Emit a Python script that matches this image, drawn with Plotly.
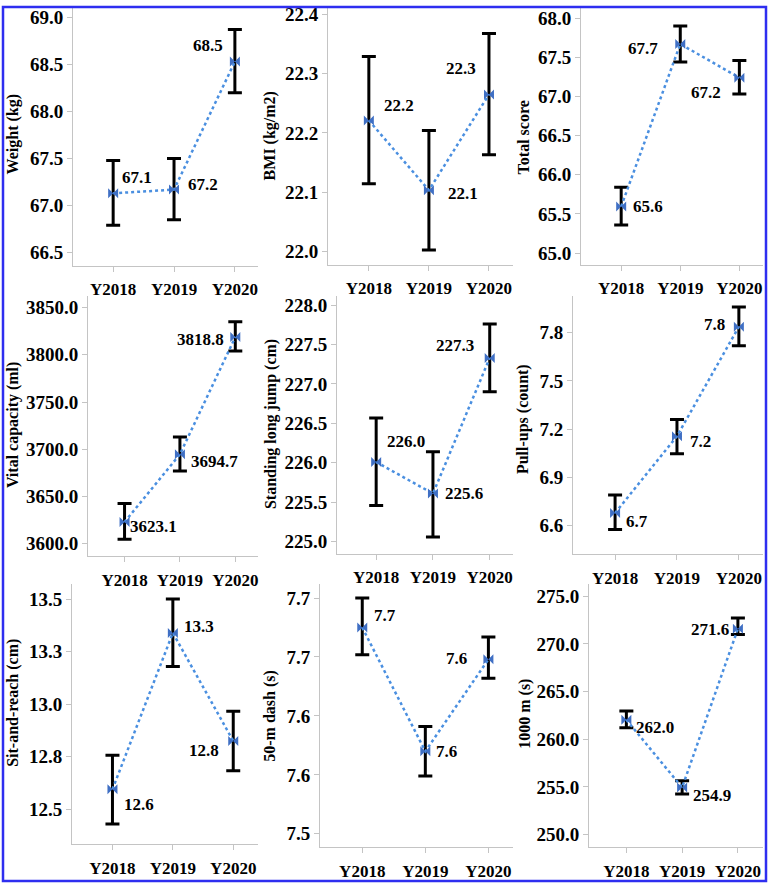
import plotly.graph_objects as go

# ---------------- data ----------------
years = ["Y2018", "Y2019", "Y2020"]

weight_mean = [67.13, 67.17, 68.53]
weight_low = [66.79, 66.85, 68.20]
weight_high = [67.48, 67.50, 68.87]

bmi_mean = [22.221, 22.103, 22.265]
bmi_low = [22.114, 22.002, 22.163]
bmi_high = [22.329, 22.204, 22.368]

total_mean = [65.596, 67.67, 67.24]
total_low = [65.36, 67.44, 67.03]
total_high = [65.84, 67.90, 67.46]

vital_mean = [3623.1, 3694.7, 3818.8]
vital_low = [3604.9, 3677.0, 3804.0]
vital_high = [3642.7, 3713.0, 3835.0]

jump_mean = [226.01, 225.61, 227.33]
jump_low = [225.46, 225.06, 226.90]
jump_high = [226.57, 226.14, 227.76]

pullup_mean = [6.678, 7.156, 7.837]
pullup_low = [6.575, 7.047, 7.718]
pullup_high = [6.79, 7.26, 7.96]

sit_mean = [12.595, 13.339, 12.825]
sit_low = [12.43, 13.179, 12.683]
sit_high = [12.757, 13.50, 12.966]

dash_mean = [7.675, 7.570, 7.648]
dash_low = [7.652, 7.549, 7.632]
dash_high = [7.700, 7.591, 7.667]

run_mean = [262.04, 254.94, 271.6]
run_low = [261.2, 254.26, 271.0]
run_high = [262.97, 255.65, 272.73]

titles = ["Weight (kg)", "BMI (kg/m2)", "Total score",
          "Vital capacity (ml)", "Standing long jump (cm)", "Pull-ups (count)",
          "Sit-and-reach (cm)", "50-m dash (s)", "1000 m (s)"]

weight_ticks = [66.5, 67.0, 67.5, 68.0, 68.5, 69.0]
bmi_ticks = [22.0, 22.1, 22.2, 22.3, 22.4]
total_ticks = [65.0, 65.5, 66.0, 66.5, 67.0, 67.5, 68.0]
vital_ticks = [3600.0, 3650.0, 3700.0, 3750.0, 3800.0, 3850.0]
jump_ticks = [225.0, 225.5, 226.0, 226.5, 227.0, 227.5, 228.0]
pullup_ticks = [6.6, 6.9, 7.2, 7.5, 7.8]
sit_ticks = [12.5, 12.75, 13.0, 13.25, 13.5]
sit_ticktext = ["12.5", "12.8", "13.0", "13.3", "13.5"]
dash_ticks = [7.50, 7.55, 7.60, 7.65, 7.70]
dash_ticktext = ["7.5", "7.6", "7.6", "7.7", "7.7"]
run_ticks = [250.0, 255.0, 260.0, 265.0, 270.0, 275.0]

panels = [
    (weight_mean, weight_low, weight_high, weight_ticks, None),
    (bmi_mean, bmi_low, bmi_high, bmi_ticks, None),
    (total_mean, total_low, total_high, total_ticks, None),
    (vital_mean, vital_low, vital_high, vital_ticks, None),
    (jump_mean, jump_low, jump_high, jump_ticks, None),
    (pullup_mean, pullup_low, pullup_high, pullup_ticks, None),
    (sit_mean, sit_low, sit_high, sit_ticks, sit_ticktext),
    (dash_mean, dash_low, dash_high, dash_ticks, dash_ticktext),
    (run_mean, run_low, run_high, run_ticks, None),
]

# ---------------- layout geometry (pixels) ----------------
W, H = 769, 884
# plot area: left, right, top, bottom
boxes = [
    (73, 258, 4, 263), (328, 513, 4, 262), (581, 763, 4, 262),
    (88, 258, 293, 555), (337, 513, 293, 552), (573, 763, 293, 553),
    (72, 258, 583, 844), (320, 513, 583, 847), (589, 763, 583, 847),
]
yranges = [
    (66.36, 69.1), (21.977, 22.411), (64.85, 68.13),
    (3586.6, 3862.6), (224.85, 228.12), (6.42, 8.03),
    (12.334, 13.57), (7.4887, 7.7116), (248.67, 276.26),
]
xranges = [
    (-0.66, 2.38), (-0.68, 2.4), (-0.68, 2.4),
    (-0.66, 2.41), (-0.69, 2.41), (-0.68, 2.39),
    (-0.67, 2.41), (-0.67, 2.39), (-0.67, 2.45),
]
# y-title centre (x px, y px)
title_pos = [(13, 131), (270, 133), (523, 134),
             (13, 423), (271, 422), (523, 417),
             (13, 702), (270, 715), (525, 713)]
# value label offsets (dx, dy) in px, screen-down positive
label_off = [
    [(24, -16), (29, -5), (-27, -16)],
    [(30, -15), (34, 3), (-28, -26)],
    [(27, 0), (-37, 4), (-33, 15)],
    [(29, 5), (35, 7), (-35, 2)],
    [(30, -21), (31, 0), (-35, -12)],
    [(22, 8), (24, 5), (-24, -2)],
    [(27, 15), (26, -6), (-29, 10)],
    [(23, -12), (21, 0), (-32, -1)],
    [(29, 8), (30, 8), (-28, 1)],
]

FONT = "Liberation Serif"
AXIS_COL = "#c4c4c4"

fig = go.Figure()
annotations = []
layout = {}

for i, (mean, low, high, ticks, ticktext) in enumerate(panels):
    n = i + 1
    xa = "x" if n == 1 else f"x{n}"
    ya = "y" if n == 1 else f"y{n}"
    err_plus = [h - m for h, m in zip(high, mean)]
    err_minus = [m - l for m, l in zip(mean, low)]
    fig.add_trace(go.Scatter(
        x=[0, 1, 2], y=mean, xaxis=xa, yaxis=ya,
        mode="lines+markers",
        line=dict(color="#4a8fe0", width=2.5, dash="dot"),
        marker=dict(symbol="bowtie", size=10, color="#3f6fc4"),
        error_y=dict(type="data", symmetric=False, array=err_plus,
                     arrayminus=err_minus, color="black", thickness=3, width=7),
        showlegend=False, hoverinfo="skip",
    ))
    l, r, t, b = boxes[i]
    xdom = [l / W, r / W]
    ydom = [1 - b / H, 1 - t / H]
    xkey = "xaxis" if n == 1 else f"xaxis{n}"
    ykey = "yaxis" if n == 1 else f"yaxis{n}"
    layout[xkey] = dict(
        domain=xdom, anchor=ya, range=list(xranges[i]),
        tickvals=[0, 1, 2], ticktext=years,
        showgrid=False, zeroline=False, showline=True, linecolor=AXIS_COL,
        linewidth=1, ticks="outside", ticklen=5, tickcolor=AXIS_COL,
        ticklabelstandoff=3,
        tickfont=dict(family=FONT, size=17, color="black", weight="bold"),
    )
    ydict = dict(
        domain=ydom, anchor=xa, range=list(yranges[i]),
        tickvals=ticks,
        showgrid=False, zeroline=False, showline=True, linecolor=AXIS_COL,
        linewidth=1, ticks="outside", ticklen=5, tickcolor=AXIS_COL,
        tickfont=dict(family=FONT, size=19, color="black", weight="bold"),
    )
    if ticktext is None:
        ydict["tickformat"] = ".1f"
    else:
        ydict["ticktext"] = ticktext
    layout[ykey] = ydict

    tx, ty = title_pos[i]
    annotations.append(dict(
        text=titles[i], xref="paper", yref="paper",
        x=tx / W, y=1 - ty / H, xanchor="center", yanchor="middle",
        textangle=-90, showarrow=False,
        font=dict(family=FONT, size=16, color="black", weight="bold"),
    ))
    for j in range(3):
        dx, dy = label_off[i][j]
        annotations.append(dict(
            text=f"{mean[j]:.1f}", xref=xa, yref=ya, x=j, y=mean[j],
            xshift=dx, yshift=-dy, showarrow=False,
            xanchor="center", yanchor="middle",
            font=dict(family=FONT, size=17, color="black", weight="bold"),
        ))

fig.update_layout(
    width=W, height=H, margin=dict(l=0, r=0, t=0, b=0),
    paper_bgcolor="white", plot_bgcolor="white",
    annotations=annotations,
    shapes=[dict(type="rect", xref="paper", yref="paper",
                 x0=3 / W, x1=766 / W, y0=1 - 881 / H, y1=1 - 3 / H,
                 line=dict(color="#2e2ef0", width=2.5))],
    **layout,
)

fig.write_html("out.html")
